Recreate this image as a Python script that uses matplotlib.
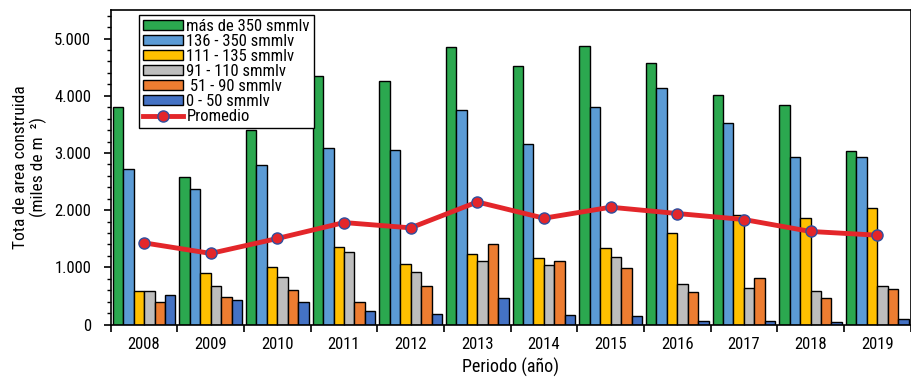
import numpy as np
import matplotlib
matplotlib.use('Agg')
import matplotlib.pyplot as plt
from matplotlib.ticker import FuncFormatter, MultipleLocator, FixedLocator
from matplotlib import font_manager

# prefer a narrow sans if one is around
names = set(f.name for f in font_manager.fontManager.ttflist)
narrow = [n for n in ['Liberation Sans Narrow', 'Roboto Condensed',
                      'Open Sans Condensed', 'DejaVu Sans Condensed']
          if n in names]
plt.rcParams['font.family'] = narrow + ['Roboto', 'DejaVu Sans']
plt.rcParams['font.stretch'] = 'condensed'

years = ['2008', '2009', '2010', '2011', '2012', '2013',
         '2014', '2015', '2016', '2017', '2018', '2019']
series_names = ['más de 350 smmlv', '136 - 350 smmlv', '111 - 135 smmlv',
                '91 - 110 smmlv', ' 51 - 90 smmlv', '0 - 50 smmlv']
mas350 = [3810, 2580, 3407, 4349, 4250, 4860, 4517, 4872, 4576, 4005, 3843, 3033]
r136_350 = [2720, 2365, 2784, 3086, 3058, 3756, 3162, 3796, 4127, 3529, 2929, 2929]
r111_135 = [585, 905, 1003, 1347, 1056, 1230, 1155, 1330, 1592, 1911, 1871, 2045]
r91_110 = [585, 672, 824, 1271, 922, 1108, 1038, 1173, 712, 632, 585, 672]
r51_90 = [387, 475, 597, 387, 677, 1405, 1108, 981, 572, 806, 457, 620]
r0_50 = [515, 428, 398, 241, 188, 457, 160, 148, 66, 61, 44, 91]
promedio = [1428, 1243, 1504, 1783, 1690, 2143, 1859, 2051, 1941, 1836, 1627, 1562]

colors = ['#2BA84F', '#5B9BD5', '#FFC000', '#BDBDBD', '#ED7D31', '#4472C4']
data = [mas350, r136_350, r111_135, r91_110, r51_90, r0_50]

fig = plt.figure(figsize=(9.12, 3.83), dpi=100)
ax = fig.add_axes([0.1214, 0.1527, 0.877, 0.8213])

x = np.arange(len(years))
w = 0.157
handles = []
for i, (vals, c, name) in enumerate(zip(data, colors, series_names)):
    b = ax.bar(x + (i - 2.5) * w, vals, w, color=c, edgecolor='black',
               linewidth=1.0, label=name, zorder=2)
    handles.append(b)

ln, = ax.plot(x, promedio, color='#E3262A', lw=3.5, marker='o', markersize=8,
              markerfacecolor='#E3262A', markeredgecolor='#2F4F9F',
              markeredgewidth=1.0, label='Promedio', zorder=3)
handles.append(ln)

ax.set_xlim(-0.5, len(years) - 0.5)
ax.set_ylim(0, 5500)

ax.yaxis.set_major_locator(FixedLocator([0, 1000, 2000, 3000, 4000, 5000]))
ax.yaxis.set_minor_locator(MultipleLocator(200))
ax.yaxis.set_major_formatter(FuncFormatter(
    lambda v, p: '{:,.0f}'.format(v).replace(',', '.')))
ax.tick_params(axis='y', which='major', direction='out', length=5,
               width=1.2, labelsize=12, pad=9)
ax.tick_params(axis='y', which='minor', direction='out', length=3, width=1.0)

ax.set_xticks(np.arange(-0.5, len(years)), minor=False)
ax.set_xticklabels([])
ax.set_xticks(x, minor=True)
ax.set_xticklabels(years, minor=True)
ax.tick_params(axis='x', which='major', direction='out', length=5, width=1.2)
ax.tick_params(axis='x', which='minor', direction='in', length=4, width=1.0,
               labelsize=12, pad=9)

for s in ax.spines.values():
    s.set_linewidth(1.2)

ax.set_xlabel('Periodo (año)', fontsize=13, labelpad=4)
ax.set_ylabel('Tota de area construida\n(miles de m  ²)', fontsize=12.5,
              linespacing=1.15, labelpad=5)

leg = ax.legend(handles=handles, loc='upper left',
                bbox_to_anchor=(0.031, 0.995), fontsize=12,
                frameon=True, fancybox=False, edgecolor='black',
                framealpha=1.0, handlelength=2.4, handleheight=0.55,
                handletextpad=0.2, labelspacing=0.0, borderpad=0.25,
                borderaxespad=0.2)
leg.get_frame().set_linewidth(1.0)

fig.savefig('out.png', dpi=100)
